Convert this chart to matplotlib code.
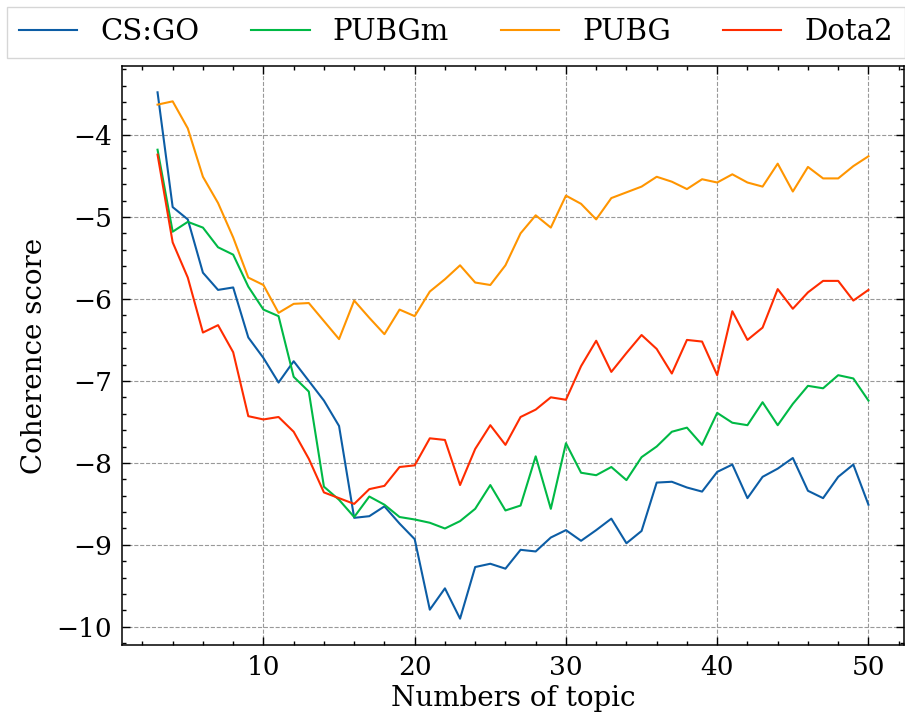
import numpy as np
import matplotlib
matplotlib.use("Agg")
import matplotlib.pyplot as plt
from matplotlib.ticker import AutoMinorLocator

plt.rcParams.update({'font.family': 'DejaVu Serif', 'font.size': 20,
                     'mathtext.fontset': 'dejavuserif'})

topics = np.arange(3, 51)
labels = ["CS:GO", "PUBGm", "PUBG", "Dota2"]
colors = ["#0C5DA5", "#00B945", "#FF9500", "#FF2C00"]

csgo = [-3.48, -4.88, -5.03, -5.68, -5.89, -5.86, -6.47, -6.72, -7.02, -6.76,
        -7.00, -7.24, -7.55, -8.67, -8.65, -8.53, -8.74, -8.93, -9.79, -9.53,
        -9.90, -9.27, -9.23, -9.29, -9.06, -9.08, -8.91, -8.82, -8.95, -8.82,
        -8.68, -8.98, -8.83, -8.24, -8.23, -8.30, -8.35, -8.11, -8.02, -8.43,
        -8.17, -8.07, -7.94, -8.34, -8.43, -8.17, -8.02, -8.51]
pubgm = [-4.18, -5.18, -5.06, -5.13, -5.37, -5.46, -5.85, -6.13, -6.21, -6.95,
         -7.13, -8.29, -8.45, -8.66, -8.41, -8.51, -8.66, -8.69, -8.73, -8.80,
         -8.71, -8.56, -8.27, -8.58, -8.52, -7.92, -8.56, -7.76, -8.12, -8.15,
         -8.05, -8.21, -7.93, -7.80, -7.62, -7.57, -7.78, -7.39, -7.51, -7.54,
         -7.26, -7.54, -7.28, -7.06, -7.09, -6.93, -6.97, -7.24]
pubg = [-3.63, -3.59, -3.92, -4.51, -4.83, -5.25, -5.74, -5.83, -6.17, -6.06,
        -6.05, -6.27, -6.49, -6.02, -6.23, -6.43, -6.13, -6.21, -5.91, -5.76,
        -5.59, -5.80, -5.83, -5.59, -5.20, -4.98, -5.13, -4.74, -4.84, -5.03,
        -4.77, -4.70, -4.63, -4.51, -4.57, -4.66, -4.54, -4.58, -4.48, -4.58,
        -4.63, -4.35, -4.69, -4.39, -4.53, -4.53, -4.38, -4.26]
dota2 = [-4.24, -5.31, -5.74, -6.41, -6.32, -6.65, -7.43, -7.47, -7.44, -7.62,
         -7.95, -8.36, -8.43, -8.50, -8.32, -8.28, -8.05, -8.03, -7.70, -7.72,
         -8.27, -7.83, -7.54, -7.78, -7.44, -7.35, -7.20, -7.23, -6.82, -6.51,
         -6.89, -6.66, -6.44, -6.61, -6.91, -6.50, -6.52, -6.93, -6.15, -6.50,
         -6.35, -5.88, -6.12, -5.92, -5.78, -5.78, -6.02, -5.89]

fig = plt.figure(figsize=(9.05, 7.17), dpi=100)
ax = fig.add_axes([122/905, 1 - 645/717, 782/905, 579/717])

for ys, lab, c in zip([csgo, pubgm, pubg, dota2], labels, colors):
    ax.plot(topics, ys, color=c, lw=1.5, label=lab)

ax.set_xlabel("Numbers of topic", fontsize=20, labelpad=4)
ax.set_ylabel("Coherence score", fontsize=20, labelpad=6)
ax.set_xticks([10, 20, 30, 40, 50])
ax.set_yticks([-10, -9, -8, -7, -6, -5, -4])
ax.xaxis.set_minor_locator(AutoMinorLocator(5))
ax.yaxis.set_minor_locator(AutoMinorLocator(5))
ax.tick_params(which='both', direction='in', top=True, right=True, width=1,
               labelsize=19, pad=7)
ax.tick_params(which='major', length=6)
ax.tick_params(which='minor', length=3)
for s in ax.spines.values():
    s.set_linewidth(1.1)
ax.grid(True, which='major', ls='--', color='#999999', lw=0.8)

fig.legend(loc='lower left', bbox_to_anchor=(7/905, 1 - 58/717, 898/905, 50/717),
           mode='expand', ncol=4, fancybox=False, edgecolor='#cccccc',
           prop={'family': 'DejaVu Serif', 'size': 21},
           handlelength=2.0, handletextpad=0.8, borderaxespad=0)

fig.savefig("out.png", dpi=100)
